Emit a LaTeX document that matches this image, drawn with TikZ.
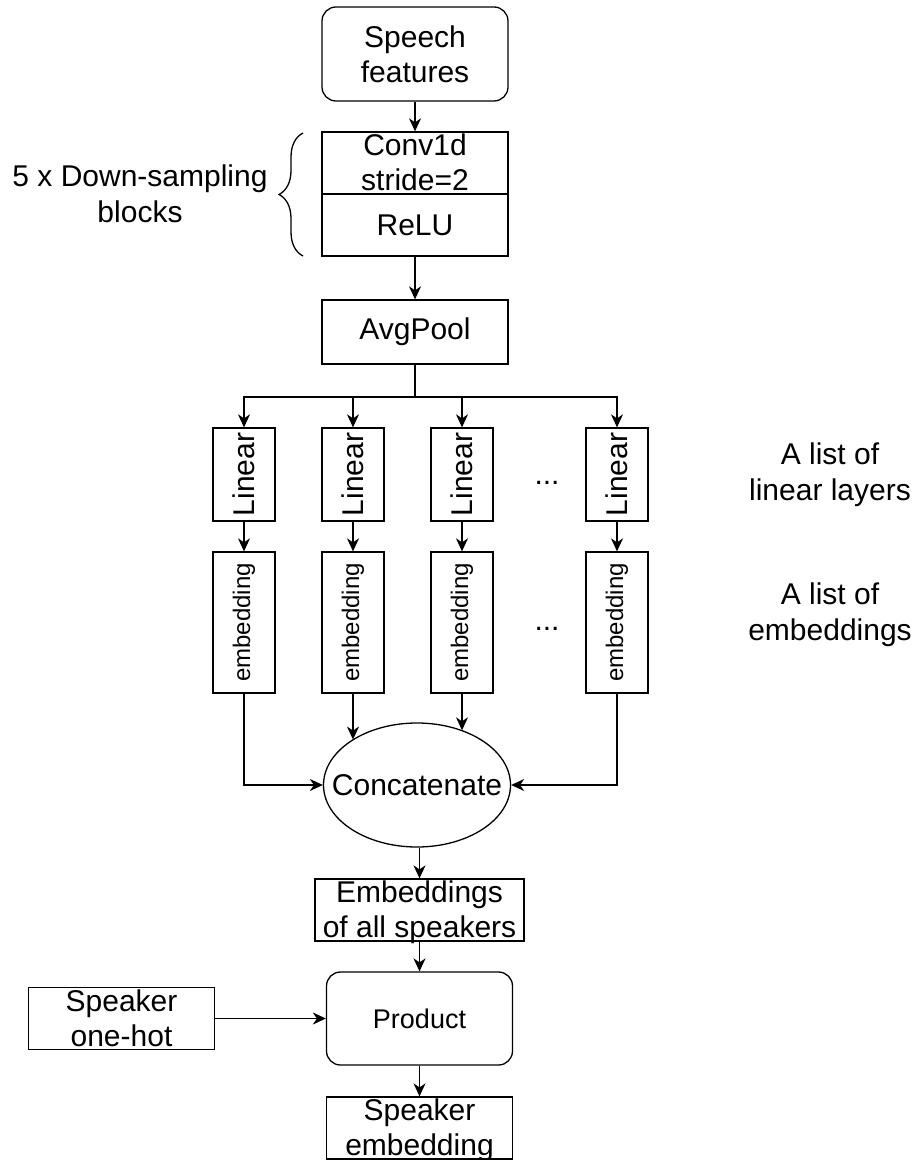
\documentclass[tikz,border=0pt]{standalone}
\usepackage{fontspec}
\setmainfont{Liberation Sans}
\usepackage{tikz}
\usetikzlibrary{arrows.meta}
\usetikzlibrary{shapes.geometric}
\usetikzlibrary{decorations.pathreplacing}

\begin{document}
\begin{tikzpicture}[
  x=0.5pt, y=-0.5pt,
  line width=0.65pt,
  box/.style={
      draw=black,
      minimum width=93pt,
      minimum height=31pt,
      inner sep=0pt,
      align=center,
      font=\fontsize{15}{17.5}\selectfont
  },
  rbox/.style={box, rounded corners=7pt},
  twol/.style={text height=29.25pt, text depth=1.75pt},
  lin/.style={box, rotate=90, minimum width=46.5pt, minimum height=31pt},
  emb/.style={box, rotate=90, minimum width=70.5pt, minimum height=31pt,
      font=\fontsize{12}{14}\selectfont},
  oval/.style={draw=black, ellipse, minimum width=93.5pt, minimum height=62pt,
      inner sep=0pt, font=\fontsize{15}{18}\selectfont},
  lbl/.style={align=center, font=\fontsize{15}{18}\selectfont},
  arr/.style={-{Stealth[length=6.5pt, width=6pt, inset=2pt]}}
]
\useasboundingbox (0,0) rectangle (915,1160);

\node[rbox, minimum height=47pt] (feat) at (415,54) {Speech\\features};
\node[box, twol] (conv)  at (415,163) {Conv1d\\stride=2};
\node[box]       (relu)  at (415,225) {ReLU};
\node[box, minimum height=32pt] (avg) at (415,332) {AvgPool};
\draw[decorate, decoration={brace, amplitude=12pt}] (303,256) -- (303,133);
\node[lbl] (blocks) at (140,194) {5 x Down-sampling\\blocks};

\coordinate (split) at (415,397);

\node[lin] (lin1) at (244,474.5) {Linear};
\node[lin] (lin2) at (353,474.5) {Linear};
\node[lin] (lin3) at (462,474.5) {Linear};
\node[lin] (lin4) at (617,474.5) {Linear};
\node[lbl] (lindots) at (547,483) {...};
\node[lbl] (linlist) at (830,475) {A list of\\linear layers};

\node[emb] (emb1) at (244,622.5) {embedding};
\node[emb] (emb2) at (353,622.5) {embedding};
\node[emb] (emb3) at (462,622.5) {embedding};
\node[emb] (emb4) at (617,622.5) {embedding};
\node[lbl] (embdots) at (547,629) {...};
\node[lbl] (emblist) at (830,615) {A list of\\embeddings};

\node[oval] (concat) at (417,785) {\makebox[0pt]{Concatenate}};
\node[box, twol, minimum width=104.5pt] (allemb) at (419.5,910) {Embeddings\\of all speakers};
\node[rbox, minimum height=46.5pt, font=\fontsize{13.5}{16}\selectfont] (prod) at (419.5,1018.5) {Product};
\node[box, twol] (onehot) at (121.5,1018.5) {Speaker\\one-hot};
\node[box, twol] (spkemb) at (419.5,1128) {Speaker\\embedding};

\draw[arr] (feat) -- (conv);
\draw[arr] (relu) -- (avg);
\draw (avg) -- (split);
\draw[arr] (split) -| (lin1);
\draw[arr] (split) -| (lin2);
\draw[arr] (split) -| (lin3);
\draw[arr] (split) -| (lin4);
\draw[arr] (lin1) -- (emb1);
\draw[arr] (lin2) -- (emb2);
\draw[arr] (lin3) -- (emb3);
\draw[arr] (lin4) -- (emb4);
\draw[arr] (emb1) |- (concat);
\draw[arr] (emb2) -- (emb2 |- concat.145);
\draw[arr] (emb3) -- (emb3 |- concat.50);
\draw[arr] (emb4) |- (concat);
\draw[arr] (concat.south -| allemb) -- (allemb);
\draw[arr] (allemb) -- (prod);
\draw[arr] (onehot) -- (prod);
\draw[arr] (prod) -- (spkemb);

\end{tikzpicture}
\end{document}
